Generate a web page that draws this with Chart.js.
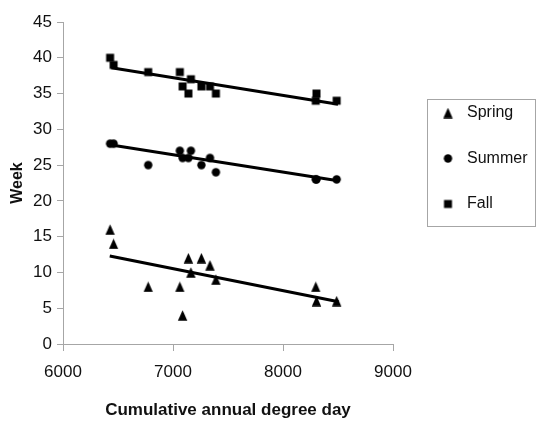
<!DOCTYPE html>
<html><head><meta charset="utf-8">
<script src="https://cdn.jsdelivr.net/npm/chart.js@4"></script>
<style>html,body{margin:0;padding:0;background:#fff}#wrap{width:543px;height:422px}</style>
</head><body><div id="wrap"><canvas id="c" width="543" height="422"></canvas></div>
<script>
// ---- data ----
const seriesNames = ['Spring', 'Summer', 'Fall'];
const degreeDays = [6428, 6460, 6775, 7062, 7087, 7140, 7163, 7258, 7336, 7390, 8298, 8304, 8488];
const springWeek = [16, 14, 8, 8, 4, 12, 10, 12, 11, 9, 8, 6, 6];
const summerWeek = [28, 28, 25, 27, 26, 26, 27, 25, 26, 24, 23, 23, 23];
const fallWeek   = [40, 39, 38, 38, 36, 35, 37, 36, 36, 35, 34, 35, 34];
const springTrendX = [6425, 8505]; const springTrendY = [12.3, 5.9];
const summerTrendX = [6440, 8500]; const summerTrendY = [27.8, 22.8];
const fallTrendX   = [6440, 8500]; const fallTrendY   = [38.6, 33.5];
const xTicks = [6000, 7000, 8000, 9000];
const yTicks = [0, 5, 10, 15, 20, 25, 30, 35, 40, 45];
const xTitle = 'Cumulative annual degree day';
const yTitle = 'Week';

// ---- markers ----
function marker(kind) {
  const c = document.createElement('canvas');
  c.width = 11; c.height = 11;
  const g = c.getContext('2d');
  g.fillStyle = '#000';
  g.beginPath();
  if (kind === 'tri') { g.moveTo(5.5, 0.3); g.lineTo(10.2, 10.7); g.lineTo(0.8, 10.7); g.closePath(); }
  else if (kind === 'circ') { g.arc(5.5, 5.5, 4.2, 0, Math.PI * 2); }
  else { g.rect(1.5, 1.5, 8, 8); }
  g.fill();
  return c;
}
const markers = [marker('tri'), marker('circ'), marker('sq')];

const pts = (xs, ys) => xs.map((x, i) => ({x: x, y: ys[i]}));
const weeks = [springWeek, summerWeek, fallWeek];
const trends = [[springTrendX, springTrendY], [summerTrendX, summerTrendY], [fallTrendX, fallTrendY]];

const datasets = [];
seriesNames.forEach((name, i) => {
  datasets.push({
    label: name, data: pts(degreeDays, weeks[i]),
    pointStyle: markers[i], pointRadius: 5, showLine: false,
    backgroundColor: '#000', borderColor: '#000'
  });
});
seriesNames.forEach((name, i) => {
  datasets.push({
    label: name + ' trend', data: pts(trends[i][0], trends[i][1]),
    showLine: true, pointRadius: 0, borderColor: '#000', borderWidth: 3, isTrend: true
  });
});

const FONT = '"Liberation Sans", Arial, sans-serif';
const legendBox = {
  id: 'legendBox',
  afterDraw(chart) {
    const ctx = chart.ctx;
    ctx.save();
    ctx.strokeStyle = '#a6a6a6'; ctx.lineWidth = 1;
    ctx.strokeRect(427.5, 99.5, 108, 127);
    ctx.font = '16px ' + FONT;
    ctx.fillStyle = '#111'; ctx.textBaseline = 'middle'; ctx.textAlign = 'left';
    const rows = [113, 158.5, 204];
    chart.data.datasets.filter(d => !d.isTrend).forEach((d, i) => {
      const m = d.pointStyle;
      ctx.drawImage(m, 448 - m.width / 2, rows[i] - m.height / 2);
      ctx.fillText(d.label, 467, rows[i]);
    });
    ctx.restore();
  }
};

new Chart(document.getElementById('c'), {
  type: 'scatter',
  data: {datasets: datasets},
  plugins: [legendBox],
  options: {
    responsive: false, animation: false,
    layout: {padding: {left: 0, top: 22, right: 150, bottom: 0}},
    plugins: {legend: {display: false}, tooltip: {enabled: false}},
    scales: {
      x: {
        type: 'linear', min: 6000, max: 9000,
        afterBuildTicks: s => { s.ticks = xTicks.map(v => ({value: v})); },
        afterFit: s => { s.height = 78; },
        grid: {drawOnChartArea: false, drawTicks: true, tickLength: 7, color: '#a6a6a6'},
        border: {display: true, color: '#a6a6a6', width: 1},
        ticks: {color: '#111', padding: 11, font: {family: FONT, size: 17}, maxRotation: 0,
          callback: v => String(v)},
        title: {display: true, text: xTitle, color: '#111', padding: {top: 0, bottom: 1},
          font: {family: FONT, size: 17, weight: 'bold'}}
      },
      y: {
        type: 'linear', min: 0, max: 45,
        afterBuildTicks: s => { s.ticks = yTicks.map(v => ({value: v})); },
        afterFit: s => { s.width = 63; },
        grid: {drawOnChartArea: false, drawTicks: true, tickLength: 6, color: '#a6a6a6'},
        border: {display: true, color: '#a6a6a6', width: 1},
        ticks: {color: '#111', padding: 5, font: {family: FONT, size: 17}, callback: v => String(v)},
        title: {display: true, text: yTitle, color: '#111', padding: {top: 8, bottom: 0},
          font: {family: FONT, size: 16, weight: 'bold'}}
      }
    }
  }
});
</script>
</body></html>
